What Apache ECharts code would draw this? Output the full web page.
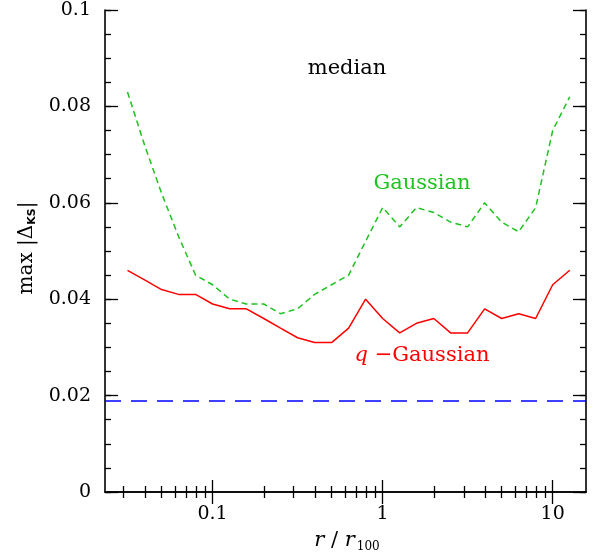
<!DOCTYPE html>
<html>
<head>
<meta charset="utf-8">
<script src="https://cdn.jsdelivr.net/npm/echarts@6/dist/echarts.min.js"></script>
<style>
  html, body { margin: 0; padding: 0; background: #fff; }
  #chart { width: 596px; height: 559px; }
</style>
</head>
<body>
<div id="chart"></div>
<script>
// radius bins r / r100 (0.1 dex steps)
const rValues = [0.0316, 0.0398, 0.0501, 0.0631, 0.0794, 0.1, 0.126, 0.158, 0.2, 0.251,
                 0.316, 0.398, 0.501, 0.631, 0.794, 1, 1.26, 1.58, 2, 2.51,
                 3.16, 3.98, 5.01, 6.31, 7.94, 10, 12.6];
// median max |Delta_KS|
const gaussian = [0.083, 0.072, 0.062, 0.053, 0.045, 0.043, 0.040, 0.039, 0.039, 0.037,
                  0.038, 0.041, 0.043, 0.045, 0.052, 0.059, 0.055, 0.059, 0.058, 0.056,
                  0.055, 0.060, 0.056, 0.054, 0.059, 0.075, 0.082];
const qGaussian = [0.046, 0.044, 0.042, 0.041, 0.041, 0.039, 0.038, 0.038, 0.036, 0.034,
                   0.032, 0.031, 0.031, 0.034, 0.040, 0.036, 0.033, 0.035, 0.036, 0.033,
                   0.033, 0.038, 0.036, 0.037, 0.036, 0.043, 0.046];
const referenceLevel = [0.019];

const xMajorTicks = [0.1, 1, 10];
const xMinorTicks = [0.03, 0.04, 0.05, 0.06, 0.07, 0.08, 0.09,
                     0.2, 0.3, 0.4, 0.5, 0.6, 0.7, 0.8, 0.9,
                     2, 3, 4, 5, 6, 7, 8, 9];

const X_MIN = 0.0233, X_MAX = 15.7;
const FONT = 'DejaVu Serif';
const GREEN = '#1fc21f';

const chart = echarts.init(document.getElementById('chart'));

function xAxisDef(pos, ticks, len, withLabel, withLine) {
  return {
    type: 'log', position: pos, min: X_MIN, max: X_MAX,
    axisLine: { show: withLine, lineStyle: { color: '#000', width: 1.6 } },
    axisTick: { show: true, inside: true, length: len, customValues: ticks,
                lineStyle: { color: '#000', width: 1.3 } },
    axisLabel: withLabel
      ? { show: true, customValues: ticks, margin: 13, color: '#000', fontFamily: FONT, fontSize: 19 }
      : { show: false },
    splitLine: { show: false }
  };
}
function yAxisDef(pos, interval, len, withLabel, withLine) {
  return {
    type: 'value', position: pos, min: 0, max: 0.1, interval: interval,
    axisLine: { show: withLine, lineStyle: { color: '#000', width: 1.6 } },
    axisTick: { show: true, inside: true, length: len, lineStyle: { color: '#000', width: 1.3 } },
    axisLabel: withLabel
      ? { show: true, margin: 14, color: '#000', fontFamily: FONT, fontSize: 19 }
      : { show: false },
    splitLine: { show: false }
  };
}

const option = {
  animation: false,
  backgroundColor: '#fff',
  grid: { left: 105, right: 10, top: 10, bottom: 67 },
  xAxis: [
    xAxisDef('bottom', xMajorTicks, 12, true, true),
    xAxisDef('bottom', xMinorTicks, 6, false, false),
    xAxisDef('top', xMajorTicks, 12, false, true),
    xAxisDef('top', xMinorTicks, 6, false, false)
  ],
  yAxis: [
    yAxisDef('left', 0.02, 13, true, true),
    yAxisDef('left', 0.005, 6, false, false),
    yAxisDef('right', 0.02, 13, false, true),
    yAxisDef('right', 0.005, 6, false, false)
  ],
  series: [
    {
      name: 'Gaussian', type: 'line', showSymbol: false,
      data: rValues.map((r, i) => [r, gaussian[i]]),
      lineStyle: { color: GREEN, width: 1.5, type: [6, 4] }
    },
    {
      name: 'q-Gaussian', type: 'line', showSymbol: false,
      data: rValues.map((r, i) => [r, qGaussian[i]]),
      lineStyle: { color: '#ff0000', width: 1.5 },
      markLine: {
        silent: true, symbol: 'none', precision: 4, label: { show: false },
        lineStyle: { color: '#0000ff', width: 1.5, type: [16, 10] },
        data: referenceLevel.map(v => ({ yAxis: v }))
      }
    }
  ],
  graphic: [
    { type: 'text', x: 347, y: 69,
      style: { text: 'median', font: '21px "DejaVu Serif"', fill: '#000', align: 'center', verticalAlign: 'middle' } },
    { type: 'text', x: 422, y: 184,
      style: { text: 'Gaussian', font: '21px "DejaVu Serif"', fill: GREEN, align: 'center', verticalAlign: 'middle' } },
    { type: 'text', x: 422, y: 356,
      style: {
        text: '{i|q}{n| \u2212Gaussian}', fill: '#ff0000', align: 'center', verticalAlign: 'middle',
        rich: {
          i: { fontFamily: FONT, fontStyle: 'italic', fontSize: 21, fill: '#ff0000' },
          n: { fontFamily: FONT, fontSize: 21, fill: '#ff0000' }
        }
      } },
    { type: 'text', x: 347, y: 541,
      style: {
        text: '{i|r}{n| / }{i|r}{s|100}', fill: '#000', align: 'center', verticalAlign: 'middle',
        rich: {
          i: { fontFamily: FONT, fontStyle: 'italic', fontSize: 21, fill: '#000' },
          n: { fontFamily: FONT, fontSize: 21, fill: '#000' },
          s: { fontFamily: FONT, fontSize: 12, fill: '#000', padding: [11, 0, 0, 2] }
        }
      } },
    { type: 'text', x: 27, y: 248, rotation: Math.PI / 2,
      style: {
        text: '{n|max |\u0394}{s|KS}{n||}', fill: '#000', align: 'center', verticalAlign: 'middle',
        rich: {
          n: { fontFamily: FONT, fontSize: 20, fill: '#000' },
          s: { fontFamily: 'DejaVu Sans', fontSize: 11, fontWeight: 'bold', fill: '#000', padding: [11, 0, 0, 0] }
        }
      } }
  ]
};

chart.setOption(option);
</script>
</body>
</html>
